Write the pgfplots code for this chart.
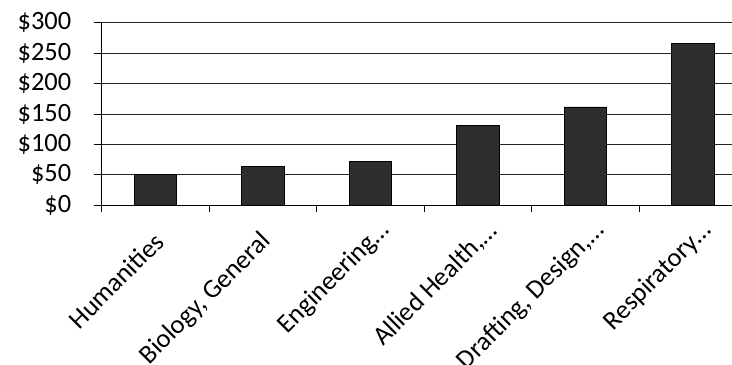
\documentclass[border=0pt]{standalone}
\usepackage{pgfplots}
\pgfplotsset{compat=1.18}
\usepackage{fontspec}
\setmainfont{Carlito}
\begin{document}
\begin{tikzpicture}[x=1bp,y=1bp]
\path[use as bounding box] (0,0) rectangle (732,364);
\clip (0,0) rectangle (732,364);
\begin{axis}[
  at={(101.7bp,158.7bp)}, anchor=south west, scale only axis,
  width=630.2bp, height=182.6bp,
  xmin=-0.5, xmax=5.362, ymin=0, ymax=300,
  axis x line*=bottom, axis y line*=left,
  axis line style={black, line width=0.9bp},
  ytick={0,50,...,300},
  yticklabels={\$0,\$50,\$100,\$150,\$200,\$250,\$300},
  xtick={0,...,5},
  xticklabels={Humanities\rule{15bp}{0pt},{Biology, General\rule{15bp}{0pt}},Engineering…,{Allied Health,…},{Drafting, Design,…},Respiratory…},
  minor xtick={-0.5,0.5,...,4.5},
  tick align=outside,
  major tick length=8bp, minor tick length=7bp,
  major x tick style={draw=none},
  minor x tick style={draw=black, line width=0.9bp},
  major y tick style={draw=black, line width=0.9bp},
  ymajorgrids, grid style={black!85, line width=0.9bp},
  every tick label/.append style={font=\fontsize{26.5}{31}\selectfont, text=black},
  xticklabel style={rotate=45, anchor=east, inner sep=2bp, yshift=-20bp, xshift=3bp},
  yticklabel style={anchor=east, xshift=-19bp},
  clip=false,
]
\addplot[ybar, bar width=0.397, fill=black!82, draw=black, line width=0.8bp]
  coordinates {(0,51) (1,64) (2,72.6) (3,130.5) (4,161.6) (5,265.6)};
\end{axis}
\end{tikzpicture}
\end{document}
